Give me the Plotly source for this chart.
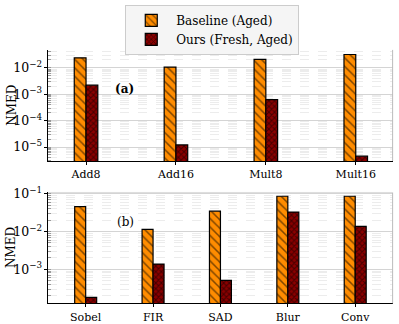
import plotly.graph_objects as go

# top panel (a)
cats_a = ["Add8", "Add16", "Mult8", "Mult16"]
baseline_a = [0.024, 0.0107, 0.021, 0.032]
ours_a = [0.0022, 1.2e-5, 6.3e-4, 4.5e-6]

# bottom panel (b)
cats_b = ["Sobel", "FIR", "SAD", "Blur", "Conv"]
baseline_b = [0.046, 0.0115, 0.035, 0.087, 0.087]
ours_b = [1.8e-4, 1.38e-3, 5.1e-4, 0.033, 0.0138]

ORANGE = "#ff8c00"
DARKRED = "#8b0000"
FONT = "DejaVu Serif"

fig = go.Figure()

w_a = 0.131
w_b = 0.163
pos_a = list(range(len(cats_a)))
pos_b = list(range(len(cats_b)))

def base_pat():
    return dict(shape="\\", fgcolor="black", size=6, solidity=0.25)

def ours_pat():
    return dict(shape="x", fgcolor="black", size=4, solidity=0.45)

fig.add_trace(go.Bar(x=pos_a, y=baseline_a, width=w_a, offset=-w_a,
                     marker=dict(color=ORANGE, pattern=base_pat(),
                                 line=dict(color="black", width=1.2)),
                     name="Baseline (Aged)", xaxis="x", yaxis="y"))
fig.add_trace(go.Bar(x=pos_a, y=ours_a, width=w_a, offset=0,
                     marker=dict(color=DARKRED, pattern=ours_pat(),
                                 line=dict(color="black", width=1.2)),
                     name="Ours (Fresh, Aged)", xaxis="x", yaxis="y"))
fig.add_trace(go.Bar(x=pos_b, y=baseline_b, width=w_b, offset=-w_b,
                     marker=dict(color=ORANGE, pattern=base_pat(),
                                 line=dict(color="black", width=1.2)),
                     showlegend=False, xaxis="x2", yaxis="y2"))
fig.add_trace(go.Bar(x=pos_b, y=ours_b, width=w_b, offset=0,
                     marker=dict(color=DARKRED, pattern=ours_pat(),
                                 line=dict(color="black", width=1.2)),
                     showlegend=False, xaxis="x2", yaxis="y2"))

xdom = [0.121, 0.984]

def yax(dom, rng, anchor):
    return dict(domain=dom, type="log", range=rng, anchor=anchor,
                dtick=1, exponentformat="power", showexponent="all",
                showline=True, linecolor="black", linewidth=1.2,
                ticks="outside", ticklen=3, tickcolor="black",
                gridcolor="#d4d4d4", gridwidth=1, zeroline=False,
                minor=dict(showgrid=True, gridcolor="#ececec", griddash="dash",
                           gridwidth=1,
                           ticks="inside", ticklen=3, tickcolor="#999999"),
                tickfont=dict(size=10, family=FONT, color="black"),
                automargin=False)

def xax(rng, cats, anchor):
    return dict(domain=xdom, range=rng, anchor=anchor,
                tickvals=list(range(len(cats))), ticktext=cats,
                showline=True, linecolor="black", linewidth=1.2,
                ticks="outside", ticklen=3, tickcolor="black",
                showgrid=False, zeroline=False,
                tickfont=dict(size=11, family=FONT, color="black"),
                automargin=False)

fig.update_layout(
    width=399, height=324,
    margin=dict(l=0, r=0, t=0, b=0),
    paper_bgcolor="white", plot_bgcolor="white",
    barmode="overlay",
    font=dict(family=FONT, color="black", size=11),
    xaxis=xax([-0.42, 3.41], cats_a, "y"),
    yaxis=yax([0.503, 0.846], [-5.53, -1.32], "x"),
    xaxis2=xax([-0.555, 4.555], cats_b, "y2"),
    yaxis2=yax([0.064, 0.406], [-3.9, -0.96], "x2"),
    legend=dict(x=0.532, y=0.985, xanchor="center", yanchor="top",
                bgcolor="#f5f5f5", bordercolor="#cccccc", borderwidth=1,
                font=dict(size=12, family=FONT, color="black"),
                itemwidth=40, tracegroupgap=4),
    annotations=[
        dict(text="<b>(a)</b>", xref="x domain", yref="y domain", x=0.188, y=0.73,
             showarrow=False, font=dict(size=12, family=FONT, color="black")),
        dict(text="(b)", xref="x2 domain", yref="y2 domain", x=0.194, y=0.815,
             showarrow=False, font=dict(size=12, family=FONT, color="black")),
        dict(text="NMED", xref="paper", yref="paper", x=0.028, y=0.674,
             xanchor="center", yanchor="middle",
             textangle=-90, showarrow=False,
             font=dict(size=12, family=FONT, color="black")),
        dict(text="NMED", xref="paper", yref="paper", x=0.028, y=0.235,
             xanchor="center", yanchor="middle",
             textangle=-90, showarrow=False,
             font=dict(size=12, family=FONT, color="black")),
    ],
    shapes=[
        dict(type="line", xref="x domain", yref="y domain", x0=1, x1=1, y0=0, y1=1,
             line=dict(color="#bbbbbb", width=1)),
        dict(type="line", xref="x2 domain", yref="y2 domain", x0=1, x1=1, y0=0, y1=1,
             line=dict(color="#bbbbbb", width=1)),
        dict(type="line", xref="x2 domain", yref="y2 domain", x0=0, x1=1, y0=1, y1=1,
             line=dict(color="#dddddd", width=1)),
    ],
)

fig.write_html("out.html", config={"displayModeBar": False},
               post_script="document.body.style.margin='0';")
